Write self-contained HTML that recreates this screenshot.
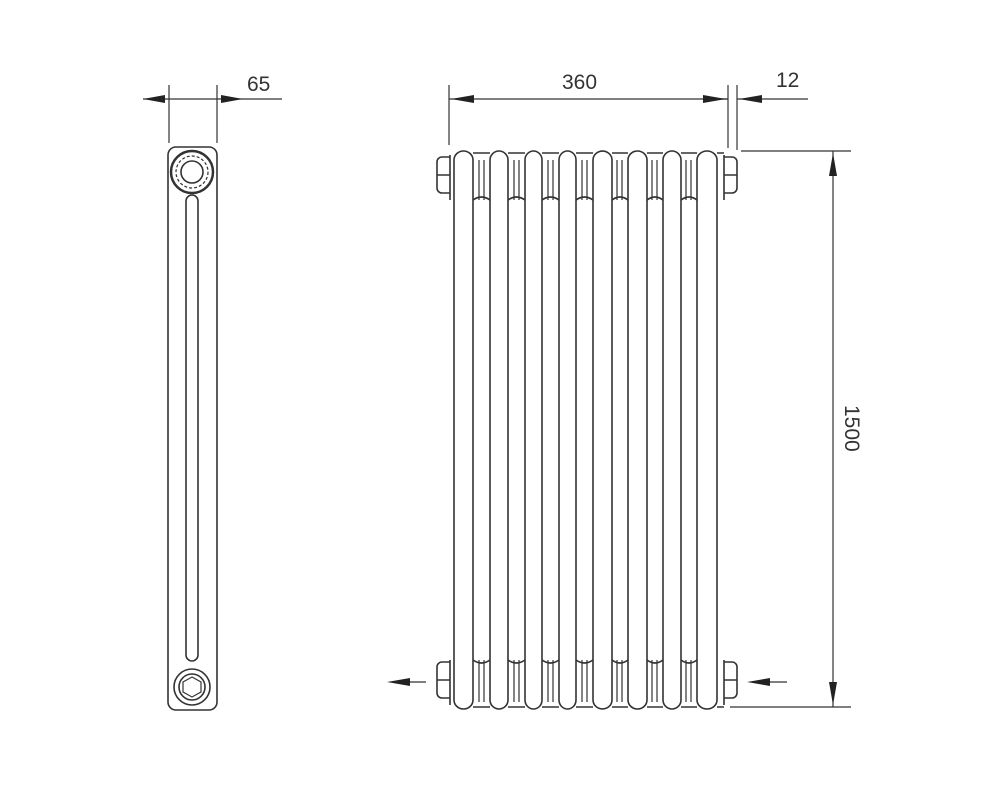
<!DOCTYPE html>
<html><head><meta charset="utf-8"><style>html,body{margin:0;padding:0;background:#fff}svg{display:block}</style></head>
<body>
<svg width="1000" height="800" viewBox="0 0 1000 800" xmlns="http://www.w3.org/2000/svg" font-family="Liberation Sans, sans-serif">
<g stroke="#333" stroke-width="1.6" fill="none">
<!-- side view -->
<rect x="168" y="147" width="49" height="563" rx="8"/>
<circle cx="192" cy="172" r="21" stroke-width="2.5"/>
<circle cx="192" cy="172" r="16" stroke-width="1.2" stroke-dasharray="3 2"/>
<circle cx="192" cy="172" r="11"/>
<rect x="186" y="195" width="12" height="466" rx="6"/>
<circle cx="192" cy="687" r="18"/>
<circle cx="192" cy="687" r="13"/>
<polygon points="192,677 201,682 201,692 192,697 183,692 183,682" stroke-width="1.2"/>
<!-- 65 dim -->
<line x1="169" y1="85" x2="169" y2="143" stroke-width="1.2"/>
<line x1="217" y1="85" x2="217" y2="143" stroke-width="1.2"/>
<line x1="143" y1="99" x2="282" y2="99" stroke-width="1.2"/>
<!-- 360 dim -->
<line x1="449" y1="85" x2="449" y2="145" stroke-width="1.2"/>
<line x1="728" y1="85" x2="728" y2="148" stroke-width="1.2"/>
<line x1="737" y1="85" x2="737" y2="150" stroke-width="1.2"/>
<line x1="449" y1="99" x2="728" y2="99" stroke-width="1.2"/>
<line x1="737" y1="99" x2="808" y2="99" stroke-width="1.2"/>
<line x1="718" y1="99" x2="728" y2="99" stroke-width="1.2"/>
<!-- 1500 dim -->
<line x1="741" y1="151" x2="851" y2="151" stroke-width="1.2"/>
<line x1="730" y1="707" x2="851" y2="707" stroke-width="1.2"/>
<line x1="833" y1="151" x2="833" y2="707" stroke-width="1.2"/>
<!-- flow arrows -->
<line x1="405" y1="682" x2="426" y2="682" stroke-width="1.2"/>
<line x1="765" y1="682" x2="787" y2="682" stroke-width="1.2"/>
<!-- plugs -->
<path d="M450 157 h-8 a5 5 0 0 0 -5 5 v26 a5 5 0 0 0 5 5 h8 M437 175 h13"/>
<path d="M724 157 h8 a5 5 0 0 1 5 5 v26 a5 5 0 0 1 -5 5 h-8 M724 175 h13"/>
<path d="M450 662 h-8 a5 5 0 0 0 -5 5 v26 a5 5 0 0 0 5 5 h8 M437 680 h13"/>
<path d="M724 662 h8 a5 5 0 0 1 5 5 v26 a5 5 0 0 1 -5 5 h-8 M724 680 h13"/>
<path d="M450 155 v45 M450 660 v45 M724 155 v45 M724 660 v45"/>
</g>
<g stroke="#333" stroke-width="1.6" fill="none">
<!-- columns -->
<path d="M454 160 a9.5 9 0 0 1 19 0 v540 a9.5 9 0 0 1 -19 0 z"/>
<path d="M490 160 a9 9 0 0 1 18 0 v540 a9 9 0 0 1 -18 0 z"/>
<path d="M525 160 a8.5 9 0 0 1 17 0 v540 a8.5 9 0 0 1 -17 0 z"/>
<path d="M559 160 a8.5 9 0 0 1 17 0 v540 a8.5 9 0 0 1 -17 0 z"/>
<path d="M593 160 a9.5 9 0 0 1 19 0 v540 a9.5 9 0 0 1 -19 0 z"/>
<path d="M628 160 a9.5 9 0 0 1 19 0 v540 a9.5 9 0 0 1 -19 0 z"/>
<path d="M663 160 a9 9 0 0 1 18 0 v540 a9 9 0 0 1 -18 0 z"/>
<path d="M697 160 a10 9 0 0 1 20 0 v540 a10 9 0 0 1 -20 0 z"/>
<!-- connectors top/bottom between columns -->
<path d="M473 153 h17 M508 153 h17 M542 153 h17 M576 153 h17 M612 153 h16 M647 153 h16 M681 153 h16 M717 153 h7"/>
<path d="M473 707 h17 M508 707 h17 M542 707 h17 M576 707 h17 M612 707 h16 M647 707 h16 M681 707 h16 M717 707 h7"/>
<path d="M473 200 q8.5 -6 17 0 M508 200 q8.5 -6 17 0 M542 200 q8.5 -6 17 0 M576 200 q8.5 -6 17 0 M612 200 q8 -6 16 0 M647 200 q8 -6 16 0 M681 200 q8 -6 16 0"/>
<path d="M473 660 q8.5 6 17 0 M508 660 q8.5 6 17 0 M542 660 q8.5 6 17 0 M576 660 q8.5 6 17 0 M612 660 q8 6 16 0 M647 660 q8 6 16 0 M681 660 q8 6 16 0"/>
<path d="M479 160 v40 M484 160 v40 M514 160 v40 M519 160 v40 M548 160 v40 M553 160 v40 M582 160 v40 M587 160 v40 M617 160 v40 M622 160 v40 M652 160 v40 M657 160 v40 M686 160 v40 M691 160 v40" stroke-width="1.2"/>
<path d="M479 660 v42 M484 660 v42 M514 660 v42 M519 660 v42 M548 660 v42 M553 660 v42 M582 660 v42 M587 660 v42 M617 660 v42 M622 660 v42 M652 660 v42 M657 660 v42 M686 660 v42 M691 660 v42" stroke-width="1.2"/>
</g>
<g fill="#222">
<polygon points="143,99 165,95 165,103"/>
<polygon points="243,99 221,95 221,103"/>
<polygon points="451,99 474,95 474,103"/>
<polygon points="726,99 703,95 703,103"/>
<polygon points="739,99 762,95 762,103"/>
<polygon points="833,153 829,176 837,176"/>
<polygon points="833,705 829,682 837,682"/>
<polygon points="387,682 410,678 410,686"/>
<polygon points="747,682 770,678 770,686"/>
</g>
<g fill="#333" font-size="21">
<text x="247" y="91">65</text>
<text x="562" y="89">360</text>
<text x="776" y="87">12</text>
<text transform="translate(845,405) rotate(90)">1500</text>
</g>
</svg>
</body></html>
